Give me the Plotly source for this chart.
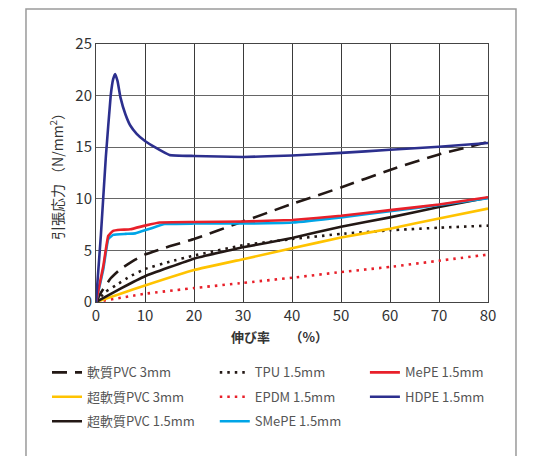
import plotly.graph_objects as go

FONT = "Noto Sans CJK JP"

# 伸び率 (%)
pvc3_x = [0, 1, 3, 5, 8, 10, 15, 20, 30, 40, 50, 60, 70, 80]
pvc3_y = [0, 0.9, 2.3, 3.2, 4.1, 4.6, 5.4, 6.1, 7.8, 9.5, 11.1, 12.8, 14.3, 15.5]

tpu_x = [0, 2, 4, 7, 10, 15, 20, 30, 40, 50, 60, 70, 80]
tpu_y = [0, 1.0, 1.6, 2.5, 3.2, 3.9, 4.5, 5.5, 6.1, 6.6, 6.95, 7.2, 7.4]

mepe_x = [0, 1.5, 2.5, 3.5, 5, 7, 10, 13, 20, 30, 40, 50, 60, 70, 80]
mepe_y = [0, 3.5, 6.4, 6.9, 7.0, 7.05, 7.4, 7.7, 7.75, 7.8, 7.95, 8.35, 8.9, 9.45, 10.15]

spvc3_x = [0, 5, 10, 20, 30, 40, 50, 60, 70, 80]
spvc3_y = [0, 0.8, 1.6, 3.1, 4.15, 5.2, 6.25, 7.1, 8.1, 9.05]

epdm_x = [0, 10, 20, 30, 40, 50, 60, 70, 80]
epdm_y = [0, 0.8, 1.35, 1.85, 2.35, 2.9, 3.4, 4.0, 4.6]

hdpe_x = [0, 1, 2, 3, 3.5, 3.9, 4.4, 5, 6, 7, 8.3, 10, 12, 15, 20, 30, 40, 50, 60, 70, 80]
hdpe_y = [0, 6.5, 14, 20, 21.6, 22.1, 21.4, 19.8, 18.2, 17.1, 16.3, 15.6, 15.0, 14.25, 14.15, 14.05, 14.2, 14.45, 14.75, 15.05, 15.4]

spvc15_x = [0, 5, 10, 20, 30, 40, 50, 60, 70, 80]
spvc15_y = [0, 1.3, 2.5, 4.2, 5.3, 6.2, 7.3, 8.2, 9.2, 10.1]

smepe_x = [0, 1.5, 2.5, 3.5, 6, 8, 11, 14, 20, 30, 40, 50, 60, 70, 80]
smepe_y = [0, 3.2, 6.1, 6.5, 6.6, 6.65, 7.1, 7.55, 7.6, 7.6, 7.7, 8.2, 8.8, 9.4, 10.05]

x_ticks = [0, 10, 20, 30, 40, 50, 60, 70, 80]
y_ticks = [0, 5, 10, 15, 20, 25]

series = [
    # name, x, y, colour, dash, legend
    ("軟質PVC 3mm", pvc3_x, pvc3_y, "#231815", "15px,8px", "legend"),
    ("超軟質PVC 3mm", spvc3_x, spvc3_y, "#ffc300", "solid", "legend"),
    ("超軟質PVC 1.5mm", spvc15_x, spvc15_y, "#231815", "solid", "legend"),
    ("TPU 1.5mm", tpu_x, tpu_y, "#231815", "2.5px,5px", "legend2"),
    ("EPDM 1.5mm", epdm_x, epdm_y, "#e8202a", "2.5px,5px", "legend2"),
    ("SMePE 1.5mm", smepe_x, smepe_y, "#00a5e7", "solid", "legend2"),
    ("MePE 1.5mm", mepe_x, mepe_y, "#e8202a", "solid", "legend3"),
    ("HDPE 1.5mm", hdpe_x, hdpe_y, "#2c2f8e", "solid", "legend3"),
]

fig = go.Figure()
# draw order so red sits above cyan, navy on top
draw_order = [4, 3, 1, 2, 0, 5, 6, 7]
for i in draw_order:
    name, xs, ys, col, dash, leg = series[i]
    fig.add_trace(go.Scatter(
        x=xs, y=ys, mode="lines", name=name,
        line=dict(color=col, width=2.6, dash=dash, shape="spline", smoothing=0.3),
        legend=leg, legendrank=i, legendgroup=name,
    ))

leg_common = dict(
    yanchor="top", xanchor="left", y=-0.215,
    bgcolor="rgba(0,0,0,0)", font=dict(family=FONT, size=13, color="#555555"),
    tracegroupgap=4.5, itemwidth=30,
)

fig.update_layout(
    width=548, height=456,
    margin=dict(l=88, r=68, t=36, b=162),
    paper_bgcolor="white", plot_bgcolor="white",
    font=dict(family=FONT, color="#333333"),
    legend=dict(x=-0.125, **leg_common),
    legend2=dict(x=0.303, **leg_common),
    legend3=dict(x=0.686, **leg_common),
    xaxis=dict(
        range=[0, 80], tickvals=x_ticks, showgrid=True, gridcolor="#3a3a3a", gridwidth=1,
        showline=True, linecolor="#444444", linewidth=1, mirror=True, zeroline=False,
        ticks="", tickfont=dict(size=15, color="#333333"),
    ),
    yaxis=dict(
        range=[0, 25], tickvals=y_ticks, showgrid=True, gridcolor="#666666", gridwidth=1,
        showline=True, linecolor="#444444", linewidth=1, mirror=True, zeroline=False,
        ticks="", tickfont=dict(size=15, color="#333333"),
        title=dict(text="引張応力 （N/mm<sup>2</sup>）", font=dict(size=14, color="#333333"), standoff=8),
    ),
    annotations=[dict(
        text="<b>伸び率　　（%）</b>", xref="paper", yref="paper", x=0.467, y=-0.132,
        xanchor="center", yanchor="middle", showarrow=False,
        font=dict(family=FONT, size=13, color="#333333"),
    )],
    shapes=[dict(
        type="rect", xref="paper", yref="paper",
        x0=-0.1786, x1=1.0714, y0=-0.65, y1=1.136,
        line=dict(color="#9a9a9a", width=1.5), layer="below",
    )],
)

fig.write_html("out.html")
